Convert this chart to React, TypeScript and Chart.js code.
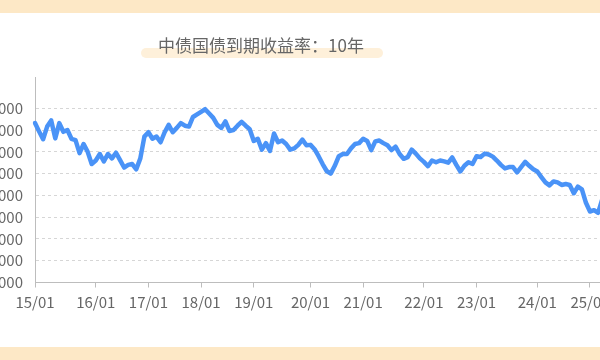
import React, { useEffect, useRef } from 'react';
import { Chart, registerables } from 'chart.js';

Chart.register(...registerables);

const TITLE = '中债国债到期收益率：10年';

// tick labels at the first observation of each year
const yearLabels = ['15/01', '16/01', '17/01', '18/01', '19/01', '20/01', '21/01', '22/01', '23/01', '24/01', '25/01'];
// number of observations belonging to each year (last one partial)
const pointsPerYear = [15, 13, 13, 13, 14, 13, 15, 13, 15, 13, 5];

// 10-year yield (%)
const yields = [
  3.66, 3.47, 3.29, 3.58, 3.72, 3.31, 3.66, 3.46, 3.50, 3.30, 3.27, 2.97, 3.18, 3.00, 2.72,
  2.80, 2.95, 2.78, 2.95, 2.85, 2.98, 2.81, 2.64, 2.70, 2.72, 2.60, 2.85, 3.35,
  3.45, 3.30, 3.35, 3.22, 3.45, 3.62, 3.45, 3.55, 3.66, 3.60, 3.58, 3.80, 3.86,
  3.92, 3.98, 3.88, 3.78, 3.62, 3.55, 3.70, 3.48, 3.50, 3.60, 3.69, 3.60, 3.52,
  3.25, 3.30, 3.05, 3.20, 3.02, 3.42, 3.22, 3.26, 3.18, 3.05, 3.08, 3.16, 3.28, 3.15,
  3.16, 3.06, 2.90, 2.72, 2.56, 2.50, 2.68, 2.90, 2.95, 2.95, 3.08, 3.18, 3.20,
  3.30, 3.25, 3.04, 3.24, 3.26, 3.20, 3.15, 3.04, 3.12, 2.95, 2.84, 2.88, 3.05, 2.96, 2.85,
  2.77, 2.67, 2.80, 2.76, 2.80, 2.78, 2.75, 2.87, 2.70, 2.55, 2.68, 2.76, 2.72,
  2.90, 2.88, 2.96, 2.94, 2.89, 2.80, 2.70, 2.62, 2.65, 2.65, 2.53, 2.65, 2.77, 2.68, 2.60,
  2.55, 2.42, 2.30, 2.23, 2.32, 2.30, 2.24, 2.26, 2.24, 2.05, 2.20, 2.14, 1.83,
  1.63, 1.66, 1.60, 1.90, 1.88,
];

const Y_MIN = 0;
const Y_MAX = 4.7;
const Y_STEP = 0.5;

const categories: string[] = [];
yearLabels.forEach((lab, k) => {
  for (let j = 0; j < pointsPerYear[k]; j++) categories.push(j === 0 ? lab : '');
});

const FONT = '"Noto Sans CJK SC", "Noto Sans", sans-serif';

function ChartCanvas() {
  const ref = useRef<HTMLCanvasElement | null>(null);
  useEffect(() => {
    if (!ref.current) return;
    const chart = new Chart(ref.current, {
      type: 'line',
      data: {
        labels: categories,
        datasets: [
          {
            data: yields,
            borderColor: '#4A93F7',
            borderWidth: 4.5,
            pointRadius: 0,
            tension: 0,
            borderJoinStyle: 'round',
            borderCapStyle: 'round',
            fill: false,
          },
        ],
      },
      options: {
        animation: false,
        responsive: false,
        maintainAspectRatio: false,
        layout: { padding: { top: 77.8, right: 13.8, bottom: 0, left: 0 } },
        plugins: { legend: { display: false }, tooltip: { enabled: false }, title: { display: false } },
        scales: {
          x: {
            type: 'category',
            offset: false,
            grid: {
              display: true,
              drawOnChartArea: false,
              drawTicks: true,
              tickLength: 5,
              tickColor: (ctx: any) => (categories[ctx.index] ? '#bdbdbd' : 'rgba(0,0,0,0)'),
            },
            border: { display: true, color: '#bdbdbd', width: 1 },
            ticks: {
              autoSkip: false,
              maxRotation: 0,
              minRotation: 0,
              padding: 6,
              color: '#666',
              font: { family: FONT, size: 15 },
              callback: (_v: any, i: number) => categories[i],
            },
            afterFit: (s: any) => {
              s.height = 77.5;
            },
          },
          y: {
            type: 'linear',
            min: Y_MIN,
            max: Y_MAX,
            grid: { display: true, drawTicks: false, color: '#d6d6d6', lineWidth: 1 },
            border: { display: true, color: '#bdbdbd', width: 1, dash: [3, 3] },
            ticks: {
              stepSize: Y_STEP,
              padding: 12,
              color: '#666',
              font: { family: FONT, size: 15 },
              callback: (v: any) => Number(v).toFixed(4),
            },
            afterBuildTicks: (s: any) => {
              s.ticks = s.ticks.filter((t: any) => Math.abs(t.value / Y_STEP - Math.round(t.value / Y_STEP)) < 1e-6);
            },
            afterFit: (s: any) => {
              s.width = 75;
            },
          },
        },
      } as any,
    });
    return () => chart.destroy();
  }, []);
  return (
    <canvas
      ref={ref}
      width={660}
      height={360}
      style={{ position: 'absolute', left: -40, top: 0, width: 660, height: 360 }}
    />
  );
}

export default function App() {
  return (
    <div
      style={{
        position: 'fixed',
        left: 0,
        top: 0,
        width: 600,
        height: 360,
        overflow: 'hidden',
        background: '#ffffff',
      }}
    >
      <ChartCanvas />
      <div style={{ position: 'absolute', left: 0, top: 0, width: 600, height: 13, background: '#FDE8C6' }} />
      <div style={{ position: 'absolute', left: 0, top: 347, width: 600, height: 13, background: '#FDE8C6' }} />
      <div
        style={{
          position: 'absolute',
          left: 140.5,
          top: 48,
          width: 242,
          height: 10,
          borderRadius: 5,
          background: '#FEF0DA',
        }}
      />
      <div
        style={{
          position: 'absolute',
          left: 0,
          top: 32,
          width: 522,
          height: 26,
          lineHeight: '26px',
          textAlign: 'center',
          fontFamily: FONT,
          fontSize: 17,
          color: '#666',
          whiteSpace: 'nowrap',
        }}
      >
        {TITLE}
      </div>
    </div>
  );
}
